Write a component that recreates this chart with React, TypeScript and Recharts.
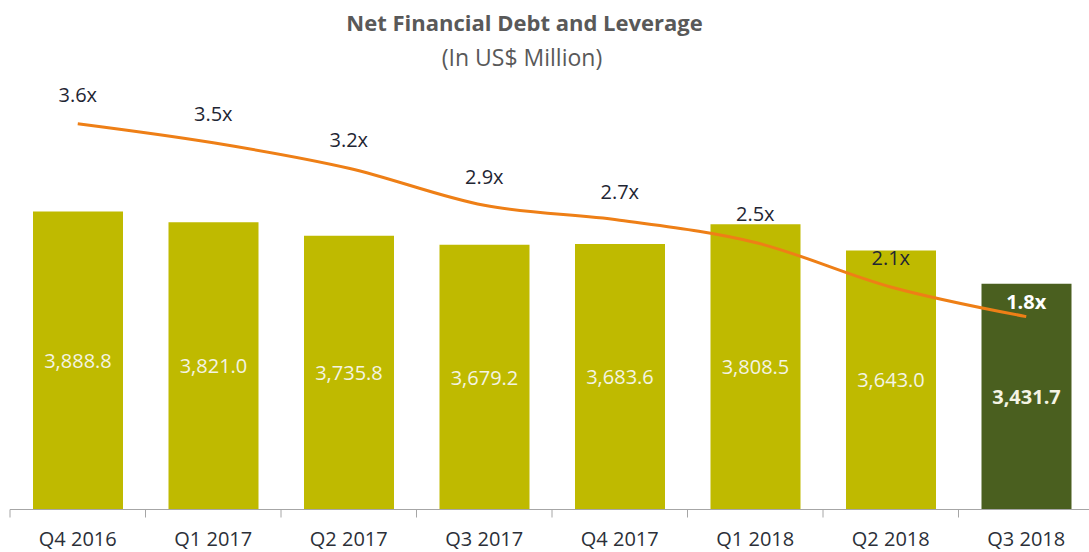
import { Bar, Cell, ComposedChart, LabelList, Line, XAxis, YAxis } from 'recharts'

const quarters = ['Q4 2016', 'Q1 2017', 'Q2 2017', 'Q3 2017', 'Q4 2017', 'Q1 2018', 'Q2 2018', 'Q3 2018']
const netDebt = [3888.8, 3821.0, 3735.8, 3679.2, 3683.6, 3808.5, 3643.0, 3431.7]
const leverage = [3.64, 3.46, 3.22, 2.87, 2.73, 2.52, 2.1, 1.82]

const data = quarters.map((q, i) => ({ quarter: q, debt: netDebt[i], lev: leverage[i] }))

const FONT = '"Open Sans", sans-serif'
const BAR = '#BFBA00'
const BAR_LAST = '#4A5F1F'
const LINE = '#EE7F16'
const AXIS = '#A6A6A6'
const last = quarters.length - 1
const TICK_GAP = 18

const fmtDebt = (v: number) =>
  v.toLocaleString('en-US', { minimumFractionDigits: 1, maximumFractionDigits: 1 })

function DebtLabel(props: any) {
  const { x, y, width, height, value, index } = props
  const isLast = index === last
  return (
    <text
      x={x + width / 2}
      y={y + height / 2}
      textAnchor="middle"
      dominantBaseline="central"
      fill="#F4F4E4"
      fontFamily={FONT}
      fontSize={20}
      fontWeight={isLast ? 700 : 400}
    >
      {fmtDebt(value)}
    </text>
  )
}

function LevLabel(props: any) {
  const { x, y, value, index } = props
  const isLast = index === last
  return (
    <text
      x={x}
      y={y - (isLast ? 15 : 29)}
      textAnchor="middle"
      dominantBaseline="central"
      fill={isLast ? '#FFFFFF' : '#1F2633'}
      fontFamily={FONT}
      fontSize={20}
      fontWeight={isLast ? 700 : 400}
    >
      {value.toFixed(1) + 'x'}
    </text>
  )
}

// category label plus a tick mark on the left edge of each category (Excel style)
function QuarterTick(props: any) {
  const { x, y, payload } = props
  const axisY = y - TICK_GAP
  const edge = x - (payload.offset || 0)
  return (
    <g>
      <line x1={edge} x2={edge} y1={axisY} y2={axisY + 8} stroke={AXIS} />
      <text
        x={x}
        y={axisY + 29}
        textAnchor="middle"
        dominantBaseline="central"
        fill="#2B2F38"
        fontFamily={FONT}
        fontSize={20}
      >
        {payload.value}
      </text>
    </g>
  )
}

export default function App() {
  return (
    <div
      style={{
        position: 'absolute',
        left: 0,
        top: 0,
        width: 1089,
        height: 552,
        overflow: 'hidden',
        background: '#fff',
        fontFamily: FONT,
      }}
    >
      <div
        style={{
          position: 'absolute',
          left: 0,
          top: 9,
          width: 1049,
          textAlign: 'center',
          fontSize: 22,
          lineHeight: '26px',
          fontWeight: 700,
          color: '#595959',
        }}
      >
        Net Financial Debt and Leverage
      </div>
      <div
        style={{
          position: 'absolute',
          left: 0,
          top: 43,
          width: 1044,
          textAlign: 'center',
          fontSize: 23,
          lineHeight: '28px',
          color: '#595959',
        }}
      >
        (In US$ Million)
      </div>
      <ComposedChart
        width={1100}
        height={552}
        data={data}
        margin={{ top: 40, right: 6, bottom: 0, left: 10 }}
      >
        <XAxis
          dataKey="quarter"
          height={42.5}
          axisLine={{ stroke: AXIS }}
          tickLine={false}
          tickSize={0}
          tick={QuarterTick}
          tickMargin={TICK_GAP}
          interval={0}
        />
        <YAxis yAxisId="debt" hide domain={[2000, 4977]} allowDataOverflow />
        <YAxis yAxisId="lev" hide domain={[0, 4.43]} allowDataOverflow />
        <Bar yAxisId="debt" dataKey="debt" barSize={90} isAnimationActive={false}>
          {data.map((_, i) => (
            <Cell key={i} fill={i === last ? BAR_LAST : BAR} />
          ))}
          <LabelList dataKey="debt" content={DebtLabel} />
        </Bar>
        <Line
          yAxisId="lev"
          type="monotone"
          dataKey="lev"
          stroke={LINE}
          strokeWidth={3}
          dot={false}
          isAnimationActive={false}
        >
          <LabelList dataKey="lev" content={LevLabel} />
        </Line>
      </ComposedChart>
    </div>
  )
}
